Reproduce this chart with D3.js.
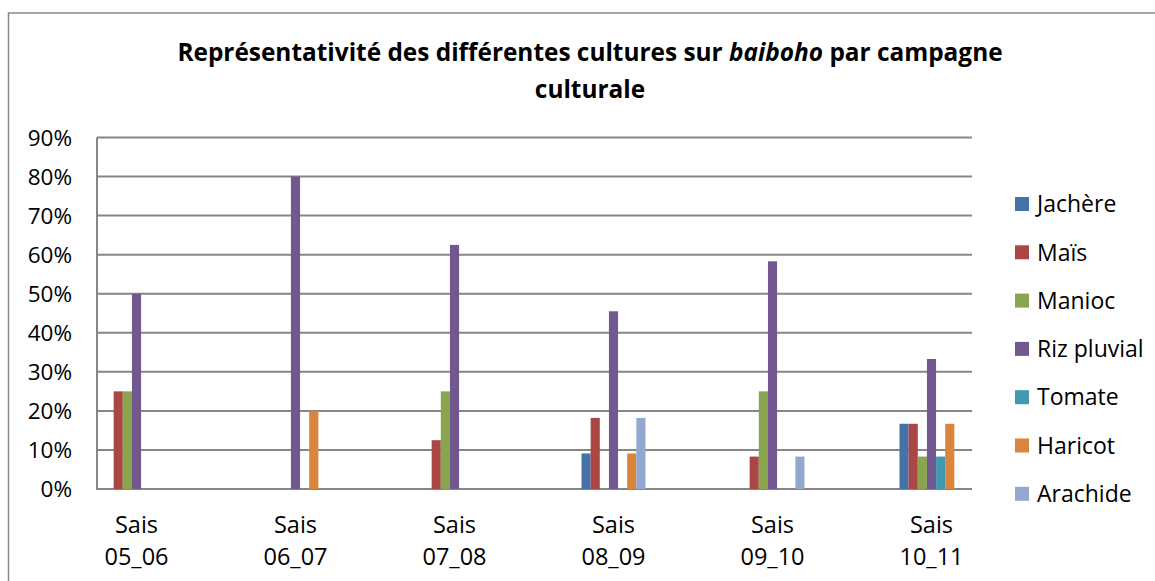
<!DOCTYPE html>
<html>
<head>
<meta charset="utf-8">
<script src="https://cdn.jsdelivr.net/npm/d3@7"></script>
<style>
  body { margin: 0; background: #fff; }
  svg text { font-family: 'Open Sans', sans-serif; fill: #000; }
</style>
</head>
<body>
<script>
// data
const categories = ['Sais 05_06', 'Sais 06_07', 'Sais 07_08', 'Sais 08_09', 'Sais 09_10', 'Sais 10_11']
const series = ['Jachère', 'Maïs', 'Manioc', 'Riz pluvial', 'Tomate', 'Haricot', 'Arachide']
const jachere = [0, 0, 0, 0.091, 0, 0.167]
const mais = [0.25, 0, 0.125, 0.182, 0.083, 0.167]
const manioc = [0.25, 0, 0.25, 0, 0.25, 0.083]
const riz = [0.5, 0.8, 0.625, 0.455, 0.583, 0.333]
const tomate = [0, 0, 0, 0, 0, 0.083]
const haricot = [0, 0.2, 0, 0.091, 0, 0.167]
const arachide = [0, 0, 0, 0.182, 0.083, 0]
const yTicks = [0, 0.1, 0.2, 0.3, 0.4, 0.5, 0.6, 0.7, 0.8, 0.9]
const colors = ['#4572A7', '#AA4643', '#89A54E', '#71588F', '#4198AF', '#DB843D', '#93A9CF']

const values = [jachere, mais, manioc, riz, tomate, haricot, arachide]

const W = 1155, H = 581
const plot = { left: 97, right: 972, top: 137.5, bottom: 489 }

const svg = d3.select('body').append('svg')
  .attr('width', W)
  .attr('height', H)

// chart frame (runs off the right and bottom of the picture)
svg.append('rect')
  .attr('x', 8.5).attr('y', 13)
  .attr('width', 1160).attr('height', 600)
  .attr('fill', '#fff')
  .attr('stroke', '#868686')
  .attr('stroke-width', 1.5)

const title = svg.append('text')
  .attr('text-anchor', 'middle')
  .style('font-weight', 'bold')
  .style('font-size', '24.4px')
title.append('tspan').attr('x', 590).attr('y', 61)
  .text('Représentativité des différentes cultures sur ')
title.append('tspan').style('font-style', 'italic').text('baiboho')
title.append('tspan').text(' par campagne')
title.append('tspan').attr('x', 590).attr('y', 98).text('culturale')

const y = d3.scaleLinear().domain([0, 0.9]).range([plot.bottom, plot.top])

const x = d3.scaleBand().domain(categories).range([57, 1011])
const xs = d3.scaleBand().domain(series).range([-32, 32])

// gridlines
svg.append('g')
  .selectAll('line')
  .data(yTicks)
  .join('line')
  .attr('x1', plot.left).attr('x2', plot.right)
  .attr('y1', d => y(d)).attr('y2', d => y(d))
  .attr('stroke', '#868686')
  .attr('stroke-width', 2)

svg.append('line')
  .attr('x1', plot.left).attr('x2', plot.left)
  .attr('y1', plot.top).attr('y2', plot.bottom + 1)
  .attr('stroke', '#868686')
  .attr('stroke-width', 2)

// y labels
svg.append('g')
  .selectAll('text')
  .data(yTicks)
  .join('text')
  .attr('x', 72)
  .attr('y', d => y(d))
  .attr('dy', '0.36em')
  .attr('text-anchor', 'end')
  .style('font-size', '22.5px')
  .text(d => d3.format('.0%')(d))

// bars
const groups = svg.append('g')
  .selectAll('g')
  .data(categories)
  .join('g')
  .attr('transform', d => `translate(${x(d) + x.bandwidth() / 2},0)`)

groups.selectAll('rect')
  .data((c, i) => series.map((s, j) => ({ s, j, v: values[j][i] })).filter(d => d.v > 0))
  .join('rect')
  .attr('x', d => xs(d.s))
  .attr('width', xs.bandwidth())
  .attr('y', d => y(d.v))
  .attr('height', d => y(0) - y(d.v))
  .attr('fill', d => colors[d.j])

// x labels
const xl = svg.append('g')
  .selectAll('text')
  .data(categories)
  .join('text')
  .attr('text-anchor', 'middle')
  .style('font-size', '23.5px')
xl.append('tspan')
  .attr('x', d => x(d) + x.bandwidth() / 2)
  .attr('y', 533)
  .text(d => d.split(' ')[0])
xl.append('tspan')
  .attr('x', d => x(d) + x.bandwidth() / 2)
  .attr('y', 565)
  .text(d => d.split(' ')[1])

// legend
const leg = svg.append('g')
  .selectAll('g')
  .data(series)
  .join('g')
  .attr('transform', (d, i) => `translate(1015,${204 + i * 48.3})`)
leg.append('rect')
  .attr('x', 0).attr('y', -7)
  .attr('width', 14).attr('height', 14)
  .attr('fill', (d, i) => colors[i])
leg.append('text')
  .attr('x', 22)
  .attr('dy', '0.36em')
  .style('font-size', '23px')
  .text(d => d)
</script>
</body>
</html>
